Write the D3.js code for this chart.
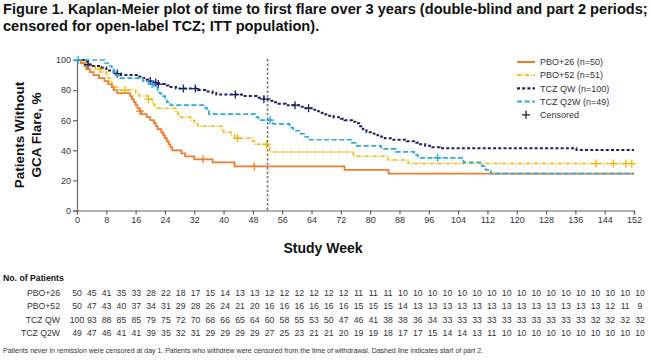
<!DOCTYPE html>
<html>
<head>
<meta charset="utf-8">
<script src="https://cdn.jsdelivr.net/npm/d3@7"></script>
<style>
body { margin: 0; background: #fff; }
svg { font-family: "Liberation Sans", Arial, sans-serif; }
</style>
</head>
<body>
<svg id="chart" width="651" height="362"></svg>
<script>

// ---- data ----
var seriesNames = ["PBO+26", "PBO+52", "TCZ QW", "TCZ Q2W"];
var legendLabels = ["PBO+26 (n=50)", "PBO+52 (n=51)", "TCZ QW (n=100)", "TCZ Q2W (n=49)", "Censored"];

var xTicks = [0, 8, 16, 24, 32, 40, 48, 56, 64, 72, 80, 88, 96, 104, 112, 120, 128, 136, 144, 152];
var yTicks = [0, 20, 40, 60, 80, 100];
var tableWeeks = [0, 4, 8, 12, 16, 20, 24, 28, 32, 36, 40, 44, 48, 52, 56, 60, 64, 68, 72, 76,
    80, 84, 88, 92, 96, 100, 104, 108, 112, 116, 120, 124, 128, 132, 136, 140, 144, 148, 152];

// [week, % without flare after the step]
var pbo26Steps = [[0, 100], [1, 98], [2, 96], [2.5, 94], [3.5, 92], [4.5, 90], [6, 88], [7.5, 86], [8.5, 84],
    [9.5, 82], [10, 80], [11, 78], [14.5, 76], [15, 74], [15.5, 72], [16, 70], [16.5, 68], [17, 66], [17.5, 64],
    [19, 62], [20, 60], [21, 58], [21.5, 56], [22, 54], [23, 52], [23.5, 50], [24, 48], [24.5, 46], [25, 44],
    [25.5, 42], [26, 40], [28.5, 38], [29.5, 36], [32, 34], [37, 32], [43, 29.3], [73, 27], [85, 24.5], [152, 24.5]];
var pbo52Steps = [[0, 100], [2, 98], [3.5, 96], [5, 94], [6.5, 92], [8, 90], [8.5, 88], [9, 86], [9.5, 84],
    [10, 82], [11, 80], [16, 78], [17, 76], [19.5, 74], [20.5, 72], [21, 70], [21.5, 68], [27, 66], [27.5, 64],
    [28, 62], [31, 60], [32, 58], [33, 56], [39.5, 54], [40, 52], [42, 50], [43, 48], [48, 46], [48.5, 44],
    [52.2, 41.5], [52.6, 38.8], [75.4, 36], [84.8, 33.5], [90.4, 31.2], [152, 31.2]];
var tczQwSteps = [[0, 100], [2, 99], [3, 97], [4, 96], [6, 95], [8, 93], [10, 91], [12, 90], [17, 89], [18, 88],
    [19, 87], [20, 86], [21, 85], [22, 84], [24, 83], [25, 82], [27, 81], [33, 80], [35, 79], [37, 78], [38, 77],
    [45, 76], [49, 75], [51, 74], [52.5, 73], [54, 72], [55, 71], [57, 70], [61, 69], [62, 68], [64, 67], [65, 66],
    [66, 65], [67, 64], [68, 63], [70, 62], [72, 61], [73, 60], [75, 59], [76, 58], [77, 56], [78, 54], [79, 52],
    [81, 51], [82, 50], [83, 49], [84, 48], [86, 47], [90, 46], [92, 45], [93, 44], [95, 43], [97, 42], [99, 41.3],
    [136.3, 40.2], [152, 40.2]];
var tczQ2wSteps = [[0, 100], [7.5, 98], [8.5, 96], [9.5, 94], [10, 92], [10.5, 90], [11.5, 88], [18, 86], [19.5, 84],
    [21, 82], [22, 80], [22.5, 78], [23, 76], [24, 74], [24.5, 72], [25.5, 70], [35, 68], [35.5, 66], [36, 64],
    [49, 62], [49.5, 60], [53.5, 57.5], [58, 55], [59, 53], [61, 51], [62, 49], [63, 47], [75, 45], [76, 43],
    [83, 41], [87, 39], [92, 37], [93, 35], [105.5, 32], [110.5, 29.5], [111.5, 27], [113, 24.5], [152, 24.5]];

var pbo26Censored = [17.2, 34.4, 48.4];
var pbo52Censored = [6.3, 13.1, 19.5, 43.8, 51.7, 141.6, 146.4, 149.8, 151.4];
var tczQwCensored = [3, 11, 20, 21.5, 22.2, 29, 32.3, 43.2, 51, 59.5, 63.2];
var tczQ2wCensored = [0.3, 20.5, 52.7, 98.4];

var pbo26AtRisk = [50, 45, 41, 35, 33, 28, 22, 18, 17, 15, 14, 13, 13, 12, 12, 12, 12, 12, 12, 11, 11, 11, 10, 10, 10,
    10, 10, 10, 10, 10, 10, 10, 10, 10, 10, 10, 10, 10, 10];
var pbo52AtRisk = [50, 47, 43, 40, 37, 34, 31, 29, 28, 26, 24, 21, 20, 16, 16, 16, 16, 16, 16, 15, 15, 15, 14, 13, 13,
    13, 13, 13, 13, 13, 13, 13, 13, 13, 13, 13, 12, 11, 9];
var tczQwAtRisk = [100, 93, 88, 85, 85, 79, 75, 72, 70, 68, 66, 65, 64, 60, 58, 55, 53, 50, 47, 46, 41, 38, 38, 36, 34,
    33, 33, 33, 33, 33, 33, 33, 33, 33, 33, 32, 32, 32, 32];
var tczQ2wAtRisk = [49, 47, 46, 41, 41, 39, 35, 32, 31, 29, 29, 29, 29, 27, 25, 23, 21, 21, 20, 19, 19, 18, 17, 17, 15,
    14, 14, 13, 11, 10, 10, 10, 10, 10, 10, 10, 10, 10, 10];

var partTwoStart = 52;

// ---- layout / styles ----
var config = {
    plot: { left: 77, right: 634, top: 60, bottom: 210.5 },
    table: { left: 77, right: 640 },
    series: [
        { color: "#EF7D2E", width: 1.8, dash: null },
        { color: "#F7B500", width: 1.5, dash: "4,1.5,1,1.5" },
        { color: "#1C2163", width: 2, dash: "3,2.2" },
        { color: "#2AA8E0", width: 1.7, dash: "5,2.6" }
    ],
    drawOrder: [0, 1, 2, 3]
};

var allSteps = [pbo26Steps, pbo52Steps, tczQwSteps, tczQ2wSteps];
var allCensored = [pbo26Censored, pbo52Censored, tczQwCensored, tczQ2wCensored];
var allAtRisk = [pbo26AtRisk, pbo52AtRisk, tczQwAtRisk, tczQ2wAtRisk];

var svg = d3.select("#chart");

var x = d3.scaleLinear().domain([0, 152]).range([config.plot.left, config.plot.right]);
var y = d3.scaleLinear().domain([0, 100]).range([config.plot.bottom, config.plot.top]);

// title
var title = svg.append("g").attr("class", "title")
    .style("font-weight", "bold").style("font-size", "14px").attr("fill", "#111");
var t1 = title.append("text").attr("x", 0).attr("y", 14)
    .text("Figure 1. Kaplan-Meier plot of time to first flare over 3 years (double-blind and part 2 periods;");
title.append("text").attr("x", 0).attr("y", 31)
    .text("censored for open-label TCZ; ITT population).");
var squeeze = 645 / t1.node().getComputedTextLength();
title.attr("transform", "translate(3,0) scale(" + squeeze + ",1)");

// axes
var xAxis = svg.append("g")
    .attr("transform", "translate(0," + config.plot.bottom + ")")
    .call(d3.axisBottom(x).tickValues(xTicks).tickSize(4).tickPadding(2));
var yAxis = svg.append("g")
    .attr("transform", "translate(" + config.plot.left + ",0)")
    .call(d3.axisLeft(y).tickValues(yTicks).tickSize(4).tickPadding(2));

[xAxis, yAxis].forEach((g) => {
    g.select(".domain").attr("stroke", "#666").attr("stroke-width", 1.2);
    g.selectAll(".tick line").attr("stroke", "#666").attr("stroke-width", 1.2);
    g.selectAll(".tick text").attr("fill", "#333").style("font-size", "9px")
        .style("font-family", "'Liberation Sans', Arial, sans-serif");
});

// axis titles
var yTitle = svg.append("text")
    .attr("transform", "translate(24,135) rotate(-90)")
    .attr("text-anchor", "middle")
    .style("font-weight", "bold").style("font-size", "13.5px").attr("fill", "#111");
yTitle.append("tspan").attr("x", 0).attr("dy", 0).text("Patients Without");
yTitle.append("tspan").attr("x", 0).attr("dy", 17).text("GCA Flare, %");

svg.append("text")
    .attr("x", 323).attr("y", 253)
    .attr("text-anchor", "middle")
    .style("font-weight", "bold").style("font-size", "14px").attr("fill", "#111")
    .text("Study Week");

// start of part 2
svg.append("line")
    .attr("x1", x(partTwoStart)).attr("x2", x(partTwoStart))
    .attr("y1", y(100) - 1).attr("y2", config.plot.bottom)
    .attr("stroke", "#777").attr("stroke-width", 1.6).attr("stroke-dasharray", "2.5,2");

// KM curves
var km = d3.line()
    .x((d) => x(d[0]))
    .y((d) => y(d[1]))
    .curve(d3.curveStepAfter);

var survivalAt = (steps, t) => {
    var v = steps[0][1];
    steps.forEach((s) => { if (s[0] <= t) v = s[1]; });
    return v;
};

var plus = (g, cx, cy, color) => {
    g.append("path")
        .attr("d", "M" + (cx - 4) + "," + cy + "H" + (cx + 4) + "M" + cx + "," + (cy - 4) + "V" + (cy + 4))
        .attr("stroke", color).attr("stroke-width", 1.3).attr("fill", "none");
};

config.drawOrder.forEach((i) => {
    var s = config.series[i];
    var g = svg.append("g").attr("class", "series");
    g.append("path")
        .attr("d", km(allSteps[i]))
        .attr("fill", "none")
        .attr("stroke", s.color)
        .attr("stroke-width", s.width)
        .attr("stroke-dasharray", s.dash);
    allCensored[i].forEach((t) => plus(g, x(t), y(survivalAt(allSteps[i], t)), s.color));
});

// legend
var legend = svg.append("g").attr("transform", "translate(517,62)");
legendLabels.forEach((label, i) => {
    var row = legend.append("g").attr("transform", "translate(0," + (i * 13.2) + ")");
    if (i < config.series.length) {
        var s = config.series[i];
        row.append("line").attr("x1", 0).attr("x2", 18).attr("y1", 0).attr("y2", 0)
            .attr("stroke", s.color).attr("stroke-width", s.width + 0.3).attr("stroke-dasharray", s.dash);
    } else {
        plus(row, 9, 0, "#222");
    }
    row.append("text").attr("x", 23).attr("y", 3.2)
        .style("font-size", "9px").attr("fill", "#333").text(label);
});

// numbers at risk
var tx = d3.scalePoint().domain(tableWeeks).range([config.table.left, config.table.right]);
var table = svg.append("g").style("font-size", "8.7px").attr("fill", "#333");
table.append("text").attr("x", 3).attr("y", 281)
    .style("font-weight", "bold").attr("fill", "#111").text("No. of Patients");
seriesNames.forEach((name, i) => {
    var yy = 296 + i * 13.3;
    table.append("text").attr("x", 60).attr("y", yy).attr("text-anchor", "end").text(name);
    table.selectAll(null).data(allAtRisk[i]).enter().append("text")
        .attr("x", (d, j) => tx(tableWeeks[j]))
        .attr("y", yy)
        .attr("text-anchor", "middle")
        .text((d) => d);
});

svg.append("text").attr("x", 3).attr("y", 353)
    .attr("textLength", 480).attr("lengthAdjust", "spacingAndGlyphs")
    .style("font-size", "7.8px").attr("fill", "#333")
    .text("Patients never in remission were censored at day 1. Patients who withdrew were censored from the time of withdrawal. Dashed line indicates start of part 2.");

</script>
</body>
</html>
